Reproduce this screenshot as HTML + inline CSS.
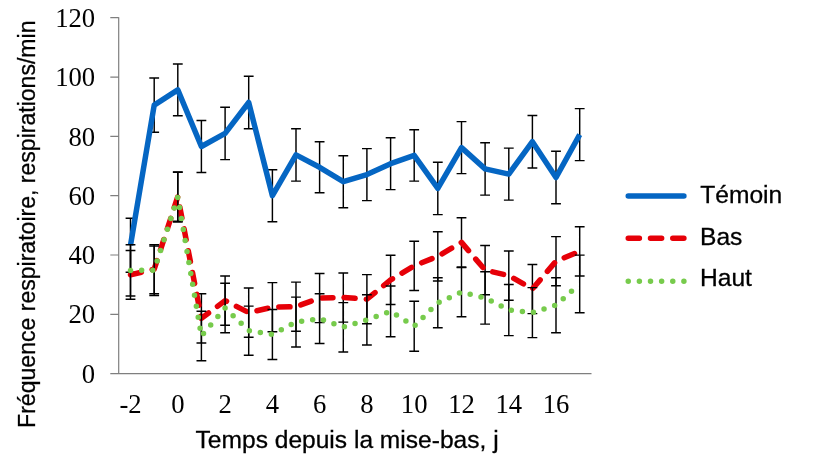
<!DOCTYPE html>
<html lang="fr">
<head>
<meta charset="utf-8">
<title>Fréquence respiratoire</title>
<style>
html,body{margin:0;padding:0;background:#fff;}
body{width:820px;height:461px;overflow:hidden;}
svg{display:block;}
.serif{font-family:"Liberation Serif","Times New Roman",serif;font-size:26.67px;fill:#000;}
.sans{font-family:"Liberation Sans",Arial,sans-serif;font-size:24.6px;fill:#000;stroke:#000;stroke-width:0.3;}
.eb{stroke:#000;stroke-width:1.45;fill:none;}
.ax{stroke:#7f7f7f;stroke-width:1.2;fill:none;}
.s{fill:none;stroke-width:5.5;stroke-linejoin:round;}
</style>
</head>
<body>
<svg width="820" height="461" viewBox="0 0 820 461">
<rect width="820" height="461" fill="#fff"/>
<path class="ax" d="M118.7 17.2V373.6H591.5M110.3 373.6H118.7M110.3 314.3H118.7M110.3 255H118.7M110.3 195.7H118.7M110.3 136.4H118.7M110.3 77.1H118.7M110.3 17.7H118.7"/>
<text class="serif" x="95.2" y="382.8" text-anchor="end">0</text>
<text class="serif" x="95.2" y="323.4" text-anchor="end">20</text>
<text class="serif" x="95.2" y="264.1" text-anchor="end">40</text>
<text class="serif" x="95.2" y="204.8" text-anchor="end">60</text>
<text class="serif" x="95.2" y="145.5" text-anchor="end">80</text>
<text class="serif" x="95.2" y="86.2" text-anchor="end">100</text>
<text class="serif" x="95.2" y="26.9" text-anchor="end">120</text>
<text class="serif" x="130.5" y="413.2" text-anchor="middle">-2</text>
<text class="serif" x="177.8" y="413.2" text-anchor="middle">0</text>
<text class="serif" x="225.1" y="413.2" text-anchor="middle">2</text>
<text class="serif" x="272.4" y="413.2" text-anchor="middle">4</text>
<text class="serif" x="319.6" y="413.2" text-anchor="middle">6</text>
<text class="serif" x="366.9" y="413.2" text-anchor="middle">8</text>
<text class="serif" x="414.2" y="413.2" text-anchor="middle">10</text>
<text class="serif" x="461.5" y="413.2" text-anchor="middle">12</text>
<text class="serif" x="508.8" y="413.2" text-anchor="middle">14</text>
<text class="serif" x="556" y="413.2" text-anchor="middle">16</text>
<text class="sans" x="195.6" y="448.4" textLength="303" lengthAdjust="spacingAndGlyphs">Temps depuis la mise-bas, j</text>
<text class="sans" transform="translate(35.3 427.9) rotate(-90)" textLength="407.4" lengthAdjust="spacingAndGlyphs">Fréquence respiratoire, respirations/min</text>
<path class="eb" d="M130.5 218.3V272.3M125.6 218.3h9.8M125.6 272.3h9.8M154.2 77.9V132.3M149.3 77.9h9.8M149.3 132.3h9.8M177.8 64V115.8M172.9 64h9.8M172.9 115.8h9.8M201.4 120.5V172.5M196.5 120.5h9.8M196.5 172.5h9.8M225.1 107.2V159.6M220.2 107.2h9.8M220.2 159.6h9.8M248.7 76.3V128.7M243.8 76.3h9.8M243.8 128.7h9.8M272.4 169.7V221.7M267.5 169.7h9.8M267.5 221.7h9.8M296 128.7V181.1M291.1 128.7h9.8M291.1 181.1h9.8M319.6 141.8V192.8M314.7 141.8h9.8M314.7 192.8h9.8M343.3 155.7V207.7M338.4 155.7h9.8M338.4 207.7h9.8M366.9 148.6V200.6M362 148.6h9.8M362 200.6h9.8M390.6 137.8V189.6M385.7 137.8h9.8M385.7 189.6h9.8M414.2 129.7V181.1M409.3 129.7h9.8M409.3 181.1h9.8M437.8 162.2V214.6M432.9 162.2h9.8M432.9 214.6h9.8M461.5 121.6V173.6M456.6 121.6h9.8M456.6 173.6h9.8M485.1 142.7V195.1M480.2 142.7h9.8M480.2 195.1h9.8M508.8 148.1V200.1M503.9 148.1h9.8M503.9 200.1h9.8M532.4 115.4V168M527.5 115.4h9.8M527.5 168h9.8M556 151.3V203.7M551.1 151.3h9.8M551.1 203.7h9.8M579.7 108.6V160.6M574.8 108.6h9.8M574.8 160.6h9.8"/>
<path class="s" stroke="#0566C3" stroke-width="5" d="M130.5 245.3 L154.2 105.1 L177.8 89.9 L201.4 146.5 L225.1 133.4 L248.7 102.5 L272.4 195.7 L296 154.9 L319.6 167.3 L343.3 181.7 L366.9 174.6 L390.6 163.7 L414.2 155.4 L437.8 188.4 L461.5 147.6 L485.1 168.9 L508.8 174.1 L532.4 141.7 L556 177.5 L579.7 134.6"/>
<path class="eb" d="M130.5 250.5V299.3M125.6 250.5h9.8M125.6 299.3h9.8M154.2 244.6V293.8M149.3 244.6h9.8M149.3 293.8h9.8M177.8 172V221.2M172.9 172h9.8M172.9 221.2h9.8M201.4 293.8V343M196.5 293.8h9.8M196.5 343h9.8M225.1 276V325.2M220.2 276h9.8M220.2 325.2h9.8M248.7 288V337.2M243.8 288h9.8M243.8 337.2h9.8M272.4 282.6V331.8M267.5 282.6h9.8M267.5 331.8h9.8M296 282.1V331.3M291.1 282.1h9.8M291.1 331.3h9.8M319.6 273.4V322.6M314.7 273.4h9.8M314.7 322.6h9.8M343.3 272.9V322.1M338.4 272.9h9.8M338.4 322.1h9.8M366.9 274.6V323.8M362 274.6h9.8M362 323.8h9.8M390.6 255.3V304.5M385.7 255.3h9.8M385.7 304.5h9.8M414.2 241.2V290.4M409.3 241.2h9.8M409.3 290.4h9.8M437.8 231.7V280.9M432.9 231.7h9.8M432.9 280.9h9.8M461.5 217.8V267M456.6 217.8h9.8M456.6 267h9.8M485.1 245.5V294.7M480.2 245.5h9.8M480.2 294.7h9.8M508.8 251V300.2M503.9 251h9.8M503.9 300.2h9.8M532.4 264.4V313.6M527.5 264.4h9.8M527.5 313.6h9.8M556 236.6V285.8M551.1 236.6h9.8M551.1 285.8h9.8M579.7 226.8V276M574.8 226.8h9.8M574.8 276h9.8"/>
<path class="s" stroke="#E60008" stroke-linecap="round" stroke-dasharray="11.13 11.13" d="M130.5 274.9 L154.2 269.2 L177.8 196.6 L201.4 318.4 L225.1 300.6 L248.7 312.6 L272.4 307.2 L296 306.7 L319.6 298 L343.3 297.5 L366.9 299.2 L390.6 279.9 L414.2 265.8 L437.8 256.3 L461.5 242.4 L485.1 270.1 L508.8 275.6 L532.4 289 L556 261.2 L579.7 251.4"/>
<path class="eb" d="M130.5 244.8V295.9M125.6 244.8h9.8M125.6 295.9h9.8M154.2 246V295.4M149.3 246h9.8M149.3 295.4h9.8M177.8 172.2V221.9M172.9 172.2h9.8M172.9 221.9h9.8M201.4 311.3V360.7M196.5 311.3h9.8M196.5 360.7h9.8M225.1 283.2V332.8M220.2 283.2h9.8M220.2 332.8h9.8M248.7 306.1V355.2M243.8 306.1h9.8M243.8 355.2h9.8M272.4 309.4V359.5M267.5 309.4h9.8M267.5 359.5h9.8M296 297.1V347M291.1 297.1h9.8M291.1 347h9.8M319.6 293.8V343.5M314.7 293.8h9.8M314.7 343.5h9.8M343.3 302.6V351.9M338.4 302.6h9.8M338.4 351.9h9.8M366.9 294.8V344.9M362 294.8h9.8M362 344.9h9.8M390.6 286V336.7M385.7 286h9.8M385.7 336.7h9.8M414.2 301.2V351.3M409.3 301.2h9.8M409.3 351.3h9.8M437.8 277.8V327.8M432.9 277.8h9.8M432.9 327.8h9.8M461.5 267.6V316.8M456.6 267.6h9.8M456.6 316.8h9.8M485.1 271.7V324.1M480.2 271.7h9.8M480.2 324.1h9.8M508.8 284.4V335.6M503.9 284.4h9.8M503.9 335.6h9.8M532.4 287.6V337.6M527.5 287.6h9.8M527.5 337.6h9.8M556 277.8V332.7M551.1 277.8h9.8M551.1 332.7h9.8M579.7 255.1V312.7M574.8 255.1h9.8M574.8 312.7h9.8"/>
<path class="s" stroke="#77CB4C" stroke-linecap="round" stroke-dasharray="0 11.13" d="M130.5 270.4 L154.2 270.2 L177.8 197 L201.4 336 L225.1 308 L248.7 330.6 L272.4 334.4 L296 322.1 L319.6 318.6 L343.3 327.2 L366.9 319.9 L390.6 311.4 L414.2 326.2 L437.8 302.8 L461.5 292.2 L485.1 297.9 L508.8 310 L532.4 312.6 L556 305.2 L579.7 283.9"/>
<path class="s" stroke="#0566C3" stroke-linecap="round" d="M628.25 196H683.9"/>
<path class="s" stroke="#E60008" stroke-linecap="round" stroke-dasharray="11.13 11.13" d="M628.25 238.3H683.9"/>
<path class="s" stroke="#77CB4C" stroke-linecap="round" stroke-dasharray="0 11.13" d="M628.25 281.2H684.5"/>
<text class="sans" x="700.2" y="203.3">Témoin</text>
<text class="sans" x="700" y="244.8">Bas</text>
<text class="sans" x="700" y="286.2">Haut</text>
</svg>
</body>
</html>
